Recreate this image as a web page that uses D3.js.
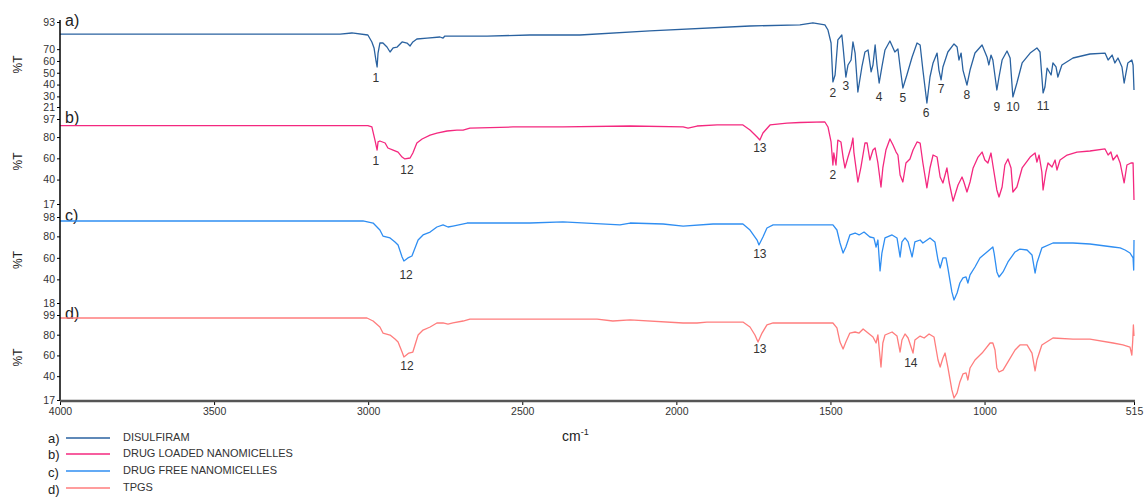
<!DOCTYPE html>
<html>
<head>
<meta charset="utf-8">
<script src="https://cdn.jsdelivr.net/npm/d3@7"></script>
<style>
  body { margin: 0; background: #fff; }
  text { font-family: "Liberation Sans", Arial, sans-serif; }
</style>
</head>
<body>
<div id="chart"></div>
<script>
// wavenumber ticks (cm-1)
var xTicks = [4000, 3500, 3000, 2500, 2000, 1500, 1000, 515];

// %T tick labels per panel
var ticksA = [21, 30, 40, 50, 60, 70, 93];
var ticksB = [17, 40, 60, 80, 97];
var ticksC = [18, 40, 60, 80, 98];
var ticksD = [17, 40, 60, 80, 99];

// spectra as [wavenumber, %T]
var disulfiram = [[4000,82.8],[3091,82.8],[3053,83.7],[3001,82],[2988,76.1],[2981,71],[2975,60.8],[2971,54.9],[2968,66.7],[2962,75.2],[2952,75.2],[2939,71.8],[2929,67.6],[2919,71],[2906,71.8],[2890,76.1],[2874,75.2],[2864,72.7],[2855,76.1],[2842,78.6],[2809,79.4],[2767,80.3],[2757,79.4],[2751,81.1],[2614,81.1],[2475,82],[2313,82],[2086,85.4],[1761,89.6],[1599,90.5],[1557,92.2],[1518,90.5],[1508,86.2],[1498,75.2],[1492,42.2],[1485,48.1],[1476,77.8],[1463,82],[1459,71.8],[1450,46.4],[1443,56.6],[1433,60.8],[1427,76.1],[1420,66.7],[1411,33.7],[1398,54.9],[1388,67.6],[1378,69.3],[1368,50.7],[1362,56.6],[1355,73.5],[1349,56.6],[1342,41.3],[1333,54.9],[1323,69.3],[1307,76.9],[1291,67.6],[1281,70.1],[1274,54.9],[1265,37.1],[1252,48.1],[1235,63.4],[1219,75.2],[1209,73.5],[1200,52.3],[1187,24.4],[1177,46.4],[1167,58.3],[1154,66.7],[1148,52.3],[1141,43.9],[1135,54.9],[1119,67.6],[1099,74.4],[1089,71.8],[1083,60.8],[1076,66.7],[1070,52.3],[1057,39.6],[1047,52.3],[1031,66.7],[1008,73.5],[992,63.4],[986,56.6],[979,65],[973,60.8],[960,35.4],[953,46.4],[943,60.8],[927,68.4],[917,62.5],[908,29.5],[895,41.3],[878,58.3],[852,66.7],[830,71],[820,67.6],[810,32.9],[804,37.9],[797,54],[784,48.1],[778,58.3],[768,54.9],[762,46.4],[749,56.6],[713,62.5],[658,65.9],[609,66.7],[599,60.8],[586,65],[577,58.3],[567,62.5],[554,54.9],[547,41.3],[535,58.3],[522,60.8],[518,56.6],[515,35.4]];

var drugLoaded = [[4000,90.8],[3124,90.8],[3001,90.8],[2988,89.5],[2978,77.2],[2971,67.8],[2968,75.4],[2962,76.3],[2945,74.4],[2936,69.7],[2919,67.8],[2903,65.9],[2890,61.2],[2881,59.4],[2864,60.3],[2855,65],[2842,74.4],[2825,78.2],[2799,81.9],[2777,83.8],[2744,85.7],[2712,86.6],[2692,86.6],[2670,88.5],[2530,89.5],[2368,89.5],[2150,90.4],[1978,89.5],[1962,88.5],[1933,90.4],[1868,91.4],[1784,91.4],[1761,86.6],[1738,80.1],[1729,77.2],[1719,83.8],[1696,91.4],[1641,93.2],[1599,93.7],[1518,94.2],[1508,89.5],[1498,75.4],[1492,53.7],[1489,65],[1482,53.7],[1476,77.2],[1466,75.4],[1459,61.2],[1453,50.9],[1443,61.2],[1433,70.7],[1427,79.1],[1424,65.9],[1414,44.3],[1411,37.7],[1401,51.8],[1388,74.4],[1381,74.4],[1372,58.4],[1362,67.8],[1355,69.7],[1346,55.6],[1336,33],[1330,50.9],[1320,67.8],[1307,78.2],[1297,72.5],[1287,65.9],[1281,63.1],[1274,44.3],[1265,37.7],[1255,55.6],[1242,59.4],[1232,67.8],[1219,75.4],[1209,74.4],[1200,55.6],[1187,32.1],[1177,50.9],[1167,63.1],[1154,61.2],[1144,42.4],[1135,36.8],[1122,50.9],[1115,37.7],[1102,19.8],[1096,25.5],[1086,34.9],[1073,42.4],[1067,37.7],[1057,28.3],[1047,37.7],[1037,50.9],[1021,61.2],[1008,65.9],[999,58.4],[989,55.6],[979,65],[973,53.7],[960,30.2],[953,23.6],[943,33],[934,53.7],[924,59.4],[914,50.9],[908,28.3],[895,33],[878,50.9],[852,61.2],[836,65],[830,56.5],[823,63.1],[814,47.1],[810,30.2],[801,47.1],[794,55.6],[781,51.8],[771,58.4],[765,49],[755,58.4],[732,63.1],[700,65.9],[658,66.9],[609,68.8],[599,63.1],[590,65.9],[583,58.4],[570,63.1],[560,55.6],[547,36.8],[538,53.7],[525,55.6],[518,55.6],[515,20.8]];

var drugFree = [[4000,94.3],[3017,94.3],[2984,92.4],[2962,85.9],[2952,80.3],[2929,78.5],[2913,74.8],[2903,72],[2890,60.8],[2884,57.1],[2871,59.9],[2858,61.7],[2838,76.6],[2822,81.3],[2799,84],[2777,88.7],[2757,90.6],[2741,88.7],[2725,89.6],[2679,92.4],[2475,92.4],[2368,93.4],[2183,90.6],[2150,92.4],[2043,91.5],[1978,89.6],[1881,91.5],[1784,91.5],[1761,85.9],[1738,76.6],[1732,72],[1719,79.4],[1706,87.8],[1686,90.6],[1566,90.6],[1492,90.6],[1479,85.9],[1469,73.8],[1459,64.5],[1450,70.1],[1437,81.3],[1420,83.1],[1407,81.3],[1391,84],[1372,79.4],[1359,78.5],[1352,70.1],[1346,76.6],[1339,47.8],[1333,64.5],[1323,78.5],[1300,81.3],[1284,78.5],[1274,60.8],[1268,74.8],[1258,78.5],[1248,74.8],[1235,60.8],[1226,74.8],[1209,76.6],[1200,73.8],[1177,78.5],[1161,74.8],[1151,58],[1144,50.6],[1135,59.9],[1125,59.9],[1119,50.6],[1106,28.3],[1099,20.8],[1089,27.3],[1080,36.6],[1070,41.3],[1060,42.2],[1054,36.6],[1047,44.1],[1031,51.5],[1015,59.9],[992,65.5],[973,70.1],[969,64.5],[960,46.9],[953,42.2],[940,46.9],[924,56.2],[901,65.5],[885,68.2],[862,67.3],[846,62.7],[836,45.9],[830,55.2],[814,69.2],[778,73.8],[713,73.8],[658,72.9],[583,70.1],[560,69.2],[544,67.3],[528,64.5],[518,59.9],[516,48.7],[515,76.6]];

var tpgs = [[4000,96.1],[3004,96.1],[2984,93.2],[2962,87.4],[2952,81.6],[2929,79.7],[2913,75.8],[2903,72.9],[2890,63.3],[2884,58.5],[2868,62.3],[2855,63.3],[2838,79.7],[2822,84.5],[2799,87.4],[2777,91.3],[2757,91.3],[2741,90.3],[2725,91.3],[2692,93.2],[2670,95.1],[2257,95.1],[2206,93.2],[2150,94.2],[1978,91.3],[1933,91.3],[1901,92.2],[1784,92.2],[1761,87.4],[1745,79.7],[1735,72.9],[1722,81.6],[1706,89.4],[1686,91.3],[1492,91.3],[1479,86.5],[1469,72.9],[1459,66.2],[1450,72.9],[1437,81.6],[1420,82.6],[1407,81.6],[1394,85.5],[1378,81.6],[1362,77.8],[1352,72],[1346,79.7],[1336,48.8],[1330,72],[1323,79.7],[1300,82.6],[1284,78.7],[1274,63.3],[1268,74.9],[1258,80.7],[1248,76.8],[1232,62.3],[1226,74.9],[1209,78.7],[1196,76.8],[1180,80.7],[1164,77.8],[1151,55.6],[1144,48.8],[1135,57.5],[1128,62.3],[1119,48.8],[1106,26.7],[1099,18.9],[1089,23.8],[1080,34.4],[1070,42.1],[1060,43.1],[1054,36.3],[1047,47.9],[1031,55.6],[1008,62.3],[982,72],[973,72],[966,65.2],[960,47.9],[953,44],[940,45.9],[924,53.7],[901,65.2],[885,70.1],[862,70.1],[846,62.3],[836,45],[830,55.6],[814,70.1],[778,76.8],[713,75.8],[658,75.8],[583,72],[551,70.1],[528,68.1],[522,60.4],[519,74.9],[517,89.4],[515,78.7]];

// peak numbers as [label, wavenumber, %T]
var peaksA = [["1",2975,45.6],["2",1492,32.9],["3",1450,38.8],["4",1342,29.5],["5",1265,28.6],["6",1190,15.9],["7",1141,36.3],["8",1057,31.2],["9",960,21],["10",908,21],["11",810,21.9]];
var peaksB = [["1",2975,57.5],["12",2874,49],["13",1729,69.7],["2",1492,44.3]];
var peaksC = [["12",2877,44.1],["13",1729,63.6]];
var peaksD = [["12",2874,49.8],["13",1729,66.2],["14",1239,52.7]];

// legend
var legendKeys = ["a)", "b)", "c)", "d)"];
var legendNames = ["DISULFIRAM", "DRUG LOADED NANOMICELLES", "DRUG FREE NANOMICELLES", "TPGS"];
var colors = ["#2a62a0", "#f4287f", "#2f8ef2", "#ff7d7d"];

var svg = d3.select("#chart").append("svg").attr("width", 1146).attr("height", 498);

var x = d3.scaleLinear().domain([4000, 515]).range([60, 1134]);

// panel layout: key, data, y domain, pixel range
var panels = [
  {key: "a)", data: disulfiram, domain: [21, 93], range: [107, 22], ticks: ticksA, peaks: peaksA},
  {key: "b)", data: drugLoaded, domain: [17, 97], range: [204, 119], ticks: ticksB, peaks: peaksB},
  {key: "c)", data: drugFree, domain: [18, 98], range: [303, 217], ticks: ticksC, peaks: peaksC},
  {key: "d)", data: tpgs, domain: [17, 99], range: [400, 315], ticks: ticksD, peaks: peaksD}
];

panels.forEach(function(p, i) {
  var y = d3.scaleLinear().domain(p.domain).range(p.range);
  var g = svg.append("g");

  // left axis ticks
  var ax = g.append("g").attr("transform", "translate(60,0)")
    .call(d3.axisLeft(y).tickValues(p.ticks).tickSize(3).tickSizeOuter(0).tickPadding(2));
  ax.select(".domain").remove();
  ax.selectAll("line").attr("stroke", "#000");
  ax.selectAll("text").attr("font-size", 10.5).attr("fill", "#333")
    .style("font-family", "'Liberation Sans', Arial, sans-serif");

  // %T label
  var mid = (p.range[0] + p.range[1]) / 2;
  g.append("text").attr("transform", "translate(22," + mid + ") rotate(-90)")
    .attr("text-anchor", "middle").attr("font-size", 12).attr("fill", "#222").text("%T");

  // panel key
  g.append("text").attr("x", 65).attr("y", p.range[1] + 4).attr("font-size", 16).attr("fill", "#222").text(p.key);

  // spectrum
  var line = d3.line().x(function(d) { return x(d[0]); }).y(function(d) { return y(d[1]); });
  g.append("path").datum(p.data).attr("d", line).attr("fill", "none")
    .attr("stroke", colors[i]).attr("stroke-width", 1.3).attr("stroke-linejoin", "round");

  // peak numbers
  g.selectAll(".peak").data(p.peaks).enter().append("text")
    .attr("x", function(d) { return x(d[1]); })
    .attr("y", function(d) { return y(d[2]); })
    .attr("dy", "0.35em").attr("text-anchor", "middle")
    .attr("font-size", 12).attr("fill", "#333").text(function(d) { return d[0]; });
});

// continuous left axis line
svg.append("line").attr("x1", 60).attr("x2", 60).attr("y1", 20).attr("y2", 401)
  .attr("stroke", "#000").attr("stroke-width", 1.5);

// bottom axis
var xa = svg.append("g").attr("transform", "translate(0,401)")
  .call(d3.axisBottom(x).tickValues(xTicks).tickFormat(d3.format("d")).tickSize(4).tickSizeOuter(0).tickPadding(3));
xa.select(".domain").remove();
xa.selectAll("line").attr("stroke", "#000");
xa.selectAll("text").attr("font-size", 10.5).attr("fill", "#333")
  .style("font-family", "'Liberation Sans', Arial, sans-serif");
svg.append("line").attr("x1", 60).attr("x2", 1135).attr("y1", 401).attr("y2", 401)
  .attr("stroke", "#555").attr("stroke-width", 2.5);

// x axis title cm-1
var xt = svg.append("text").attr("x", 562).attr("y", 441).attr("font-size", 14).attr("fill", "#222");
xt.append("tspan").text("cm");
xt.append("tspan").attr("dy", -6).attr("font-size", 9).text("-1");

// legend
var lg = svg.append("g").selectAll("g").data(legendNames).enter().append("g");
var rowY = [438, 454, 471, 488];
var keyY = [438, 454, 472, 489];
lg.append("text").attr("x", 48).attr("y", function(d, i) { return keyY[i]; }).attr("dy", "0.35em")
  .attr("font-size", 13).attr("fill", "#222").text(function(d, i) { return legendKeys[i]; });
lg.append("line").attr("x1", 66).attr("x2", 110)
  .attr("y1", function(d, i) { return rowY[i]; }).attr("y2", function(d, i) { return rowY[i]; })
  .attr("stroke", function(d, i) { return colors[i]; }).attr("stroke-width", 1.5);
lg.append("text").attr("x", 123).attr("y", function(d, i) { return rowY[i] - 1; }).attr("dy", "0.35em")
  .attr("font-size", 11).attr("fill", "#333").text(function(d) { return d; });
</script>
</body>
</html>
